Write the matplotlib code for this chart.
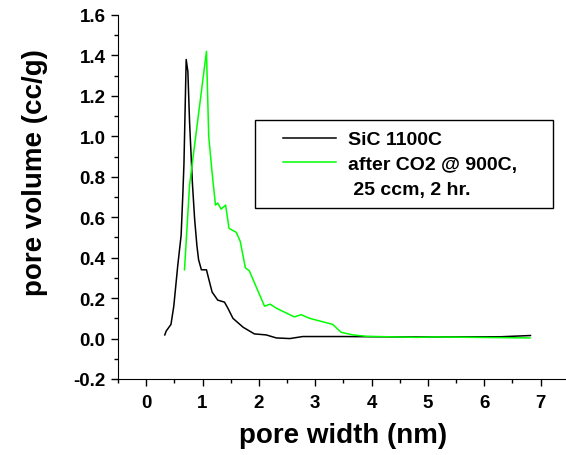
import numpy as np
import matplotlib.pyplot as plt
from matplotlib.ticker import MultipleLocator
from matplotlib.lines import Line2D
from matplotlib.legend_handler import HandlerLine2D

plt.rcParams['font.family'] = ['Liberation Sans', 'DejaVu Sans']
plt.rcParams['font.weight'] = 'bold'

# SiC 1100C
sic_x = [0.33, 0.355, 0.44, 0.49, 0.56, 0.62, 0.65, 0.67, 0.71, 0.74, 0.77, 0.82,
         0.86, 0.90, 0.93, 0.98, 1.07, 1.11, 1.17, 1.27, 1.39, 1.45, 1.54, 1.72,
         1.92, 2.13, 2.31, 2.55, 2.78, 3.5, 4.5, 5.5, 6.3, 6.82]
sic_y = [0.018, 0.037, 0.07, 0.16, 0.36, 0.51, 0.71, 0.86, 1.38, 1.32, 1.07, 0.77,
         0.59, 0.46, 0.39, 0.34, 0.34, 0.295, 0.23, 0.19, 0.18, 0.15, 0.10, 0.056,
         0.023, 0.018, 0.003, 0.0, 0.01, 0.01, 0.008, 0.008, 0.009, 0.015]

# after CO2 @ 900C, 25 ccm, 2 hr.
co2_x = [0.68, 0.77, 1.07, 1.11, 1.17, 1.23, 1.27, 1.33, 1.41, 1.47, 1.60, 1.67,
         1.76, 1.83, 2.10, 2.20, 2.31, 2.63, 2.75, 2.90, 3.31, 3.46, 3.67, 3.91,
         4.8, 5.1, 5.8, 6.81]
co2_y = [0.34, 0.76, 1.42, 1.00, 0.82, 0.66, 0.67, 0.64, 0.66, 0.545, 0.525, 0.48,
         0.35, 0.335, 0.16, 0.17, 0.15, 0.107, 0.118, 0.10, 0.07, 0.031, 0.018, 0.011,
         0.006, 0.008, 0.006, 0.003]

yticks = np.round(np.arange(-0.2, 1.61, 0.2), 1)
xticks = list(range(0, 8))

fig = plt.figure(figsize=(5.66, 4.56), dpi=100)
ax = fig.add_axes([118 / 566, 76 / 456, 448 / 566, 364 / 456])

ax.plot(sic_x, sic_y, color='black', lw=1.1)
ax.plot(co2_x, co2_y, color='#00ff00', lw=1.1)

ax.set_xlim(-0.5, 7.45)
ax.set_ylim(-0.2, 1.6)
ax.set_xticks(xticks)
ax.set_yticks(yticks)
ax.set_yticklabels(['%.1f' % v for v in yticks])
ax.xaxis.set_minor_locator(MultipleLocator(0.5))
ax.yaxis.set_minor_locator(MultipleLocator(0.1))

ax.spines['top'].set_visible(False)
ax.spines['right'].set_visible(False)
ax.tick_params(which='major', direction='out', length=5, width=1, labelsize=13.5)
ax.tick_params(axis='x', which='major', pad=6)
ax.tick_params(axis='y', which='major', pad=4)
ax.tick_params(which='minor', direction='out', length=3, width=1)
for lab in ax.get_xticklabels() + ax.get_yticklabels():
    lab.set_fontweight('bold')

ax.set_xlabel('pore width (nm)', fontsize=20, fontweight='bold', va='top')
ax.set_ylabel('pore volume (cc/g)', fontsize=20, fontweight='bold')
ax.xaxis.set_label_coords(0.503, -0.118)
ax.yaxis.set_label_coords(-0.156, 0.571)

handles = [Line2D([], [], color='black', lw=1.1),
           Line2D([], [], color='#00ff00', lw=1.1),
           Line2D([], [], color='none')]
labels = ['SiC 1100C', 'after CO2 @ 900C,', ' 25 ccm, 2 hr.']
leg = ax.legend(handles, labels, loc='upper left',
                bbox_to_anchor=(137 / 448, 259 / 364, 298 / 448, 0.0), mode='expand',
                frameon=True, fancybox=False, edgecolor='black', framealpha=1,
                prop={'weight': 'bold', 'size': 14}, handlelength=3.6, handletextpad=0.62,
                labelspacing=0.36, borderpad=0.55, borderaxespad=0,
                handler_map={Line2D: HandlerLine2D(xpad=0.89)})
leg.get_frame().set_linewidth(1)

fig.savefig('out.png', dpi=100)
